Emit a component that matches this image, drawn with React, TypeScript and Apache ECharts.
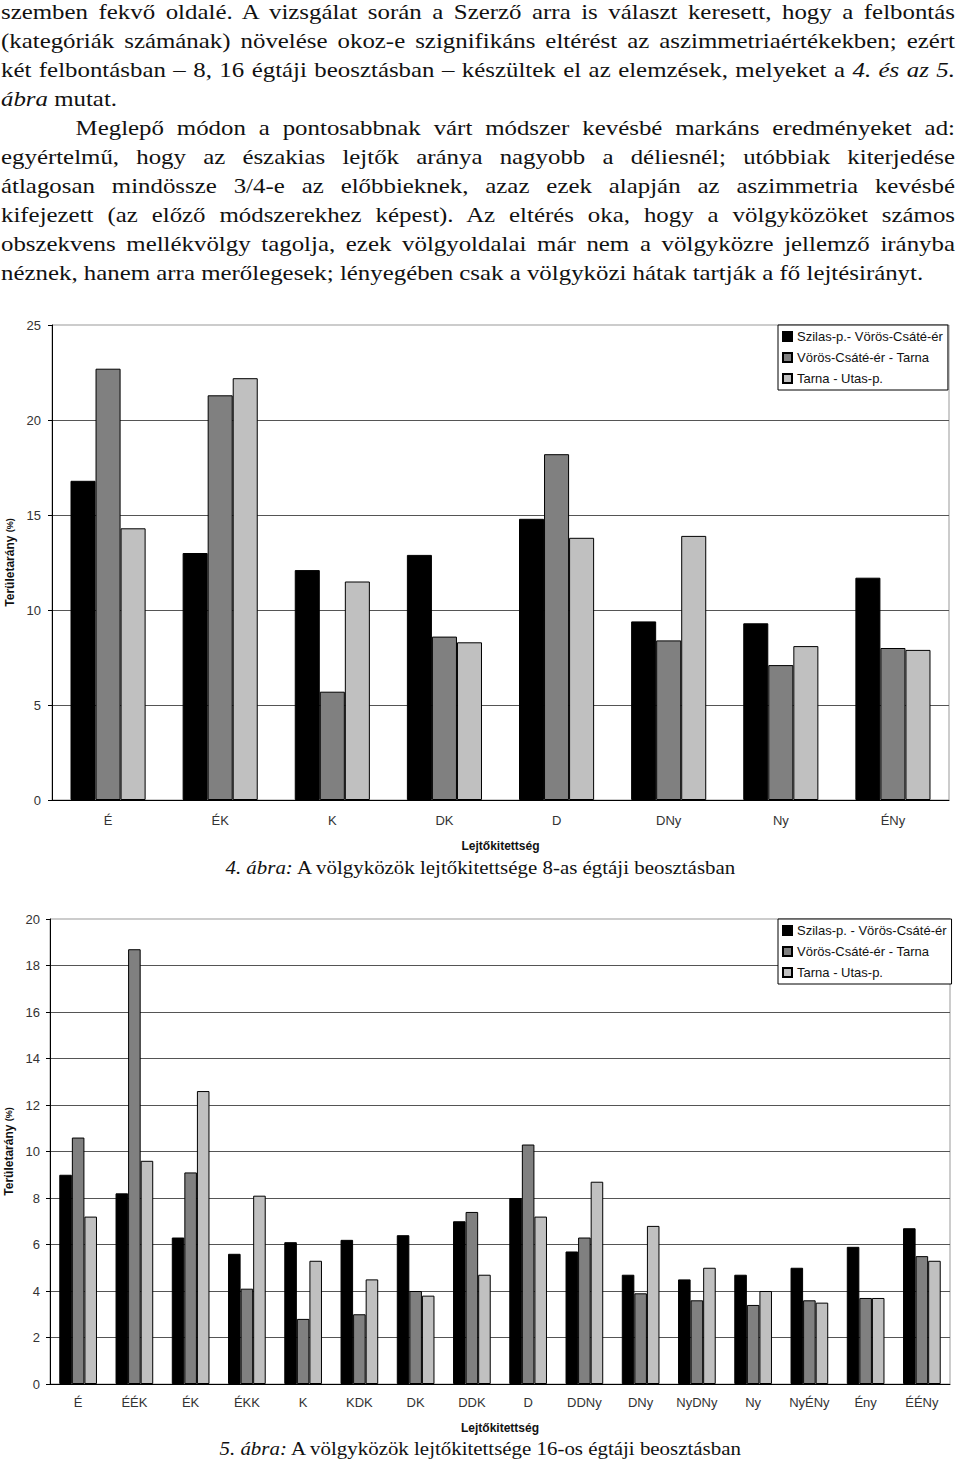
import React, { useEffect, useRef } from "react";
import * as echarts from "echarts";

// ---------- DATA ----------
const categories8 = ["É", "ÉK", "K", "DK", "D", "DNy", "Ny", "ÉNy"];
const c1Series1 = [16.8, 13.0, 12.1, 12.9, 14.8, 9.4, 9.3, 11.7];
const c1Series2 = [22.7, 21.3, 5.7, 8.6, 18.2, 8.4, 7.1, 8.0];
const c1Series3 = [14.3, 22.2, 11.5, 8.3, 13.8, 13.9, 8.1, 7.9];

const categories16 = [
  "É", "ÉÉK", "ÉK", "ÉKK", "K", "KDK", "DK", "DDK",
  "D", "DDNy", "DNy", "NyDNy", "Ny", "NyÉNy", "Ény", "ÉÉNy",
];
const c2Series1 = [9.0, 8.2, 6.3, 5.6, 6.1, 6.2, 6.4, 7.0, 8.0, 5.7, 4.7, 4.5, 4.7, 5.0, 5.9, 6.7];
const c2Series2 = [10.6, 18.7, 9.1, 4.1, 2.8, 3.0, 4.0, 7.4, 10.3, 6.3, 3.9, 3.6, 3.4, 3.6, 3.7, 5.5];
const c2Series3 = [7.2, 9.6, 12.6, 8.1, 5.3, 4.5, 3.8, 4.7, 7.2, 8.7, 6.8, 5.0, 4.0, 3.5, 3.7, 5.3];

const c1Names = ["Szilas-p.- Vörös-Csáté-ér", "Vörös-Csáté-ér - Tarna", "Tarna - Utas-p."];
const c2Names = ["Szilas-p. - Vörös-Csáté-ér", "Vörös-Csáté-ér - Tarna", "Tarna - Utas-p."];
const barColors = ["#000000", "#808080", "#c0c0c0"];

const yAxisTitle = "Területarány {s|(%)}";
const xAxisTitle = "Lejtőkitettség";

type Seg = { t: string; i?: boolean };
type Line = { segs: Seg[]; justify: boolean; indent?: number };

const textLines: Line[] = [
  { segs: [{ t: "szemben fekvő oldalé. A vizsgálat során a Szerző arra is választ keresett, hogy a felbontás" }], justify: true },
  { segs: [{ t: "(kategóriák számának) növelése okoz-e szignifikáns eltérést az aszimmetriaértékekben; ezért" }], justify: true },
  { segs: [{ t: "két felbontásban – 8, 16 égtáji beosztásban – készültek el az elemzések, melyeket a " }, { t: "4. és az 5.", i: true }], justify: true },
  { segs: [{ t: "ábra", i: true }, { t: " mutat." }], justify: false },
  { segs: [{ t: "Meglepő módon a pontosabbnak várt módszer kevésbé markáns eredményeket ad:" }], justify: true, indent: 66 },
  { segs: [{ t: "egyértelmű, hogy az északias lejtők aránya nagyobb a déliesnél; utóbbiak kiterjedése" }], justify: true },
  { segs: [{ t: "átlagosan mindössze 3/4-e az előbbieknek, azaz ezek alapján az aszimmetria kevésbé" }], justify: true },
  { segs: [{ t: "kifejezett (az előző módszerekhez képest). Az eltérés oka, hogy a völgyközöket számos" }], justify: true },
  { segs: [{ t: "obszekvens mellékvölgy tagolja, ezek völgyoldalai már nem a völgyközre jellemző irányba" }], justify: true },
  { segs: [{ t: "néznek, hanem arra merőlegesek; lényegében csak a völgyközi hátak tartják a fő lejtésirányt." }], justify: false },
];

const caption1: Seg[] = [{ t: "4. ábra:", i: true }, { t: " A völgyközök lejtőkitettsége 8-as égtáji beosztásban" }];
const caption2: Seg[] = [{ t: "5. ábra:", i: true }, { t: " A völgyközök lejtőkitettsége 16-os égtáji beosztásban" }];

const SANS = "'Liberation Sans', Arial, sans-serif";
const SERIF = "'Liberation Serif', 'Times New Roman', serif";
const SX = 1.13;

function renderSegs(segs: Seg[]) {
  return segs.map((s, k) =>
    s.i ? <i key={k}>{s.t}</i> : <React.Fragment key={k}>{s.t}</React.Fragment>
  );
}

export default function App() {
  const ref = useRef<HTMLDivElement>(null);

  useEffect(() => {
    if (!ref.current) return;
    const chart = echarts.init(ref.current, undefined, { renderer: "svg" });

    const axisLabelStyle = { fontFamily: SANS, fontSize: 13, color: "#333" };
    const nameStyle = {
      fontFamily: SANS,
      fontSize: 12,
      fontWeight: "bold" as const,
      color: "#111",
      rich: { s: { fontFamily: SANS, fontSize: 9, fontWeight: "bold" as const, color: "#111" } },
    };

    const makeSeries = (names: string[], data: number[][], idx: number) =>
      names.map((n, k) => ({
        name: n,
        type: "bar" as const,
        xAxisIndex: idx,
        yAxisIndex: idx,
        data: data[k],
        barGap: "0%",
        barCategoryGap: "33%",
        itemStyle: { color: barColors[k], borderColor: "#000", borderWidth: 1 },
      }));

    const legendBase = {
      orient: "vertical" as const,
      icon: "rect",
      itemWidth: 9,
      itemHeight: 9,
      itemGap: 8,
      itemTextGap: 4,
      padding: [5, 5, 5, 4],
      borderColor: "#000",
      borderWidth: 1,
      backgroundColor: "#fff",
      textStyle: { fontFamily: SANS, fontSize: 13, color: "#111" },
    };

    chart.setOption({
      animation: false,
      backgroundColor: "#fff",
      grid: [
        { left: 52, top: 325, width: 897, height: 475, show: true, borderColor: "#999", borderWidth: 1, backgroundColor: "transparent", containLabel: false, outerBoundsMode: "none" },
        { left: 50, top: 919, width: 900, height: 465, show: true, borderColor: "#999", borderWidth: 1, backgroundColor: "transparent", containLabel: false, outerBoundsMode: "none" },
      ],
      legend: [
        { ...legendBase, left: 778, top: 325, data: c1Names },
        { ...legendBase, left: 778, top: 919, data: c2Names },
      ],
      xAxis: [
        {
          type: "category",
          gridIndex: 0,
          data: categories8,
          axisLine: { lineStyle: { color: "#000", width: 1 } },
          axisTick: { length: 5, lineStyle: { color: "#000" } },
          axisLabel: { ...axisLabelStyle, margin: 14 },
          name: xAxisTitle,
          nameLocation: "middle",
          nameGap: 40,
          nameTextStyle: nameStyle,
        },
        {
          type: "category",
          gridIndex: 1,
          data: categories16,
          axisLine: { lineStyle: { color: "#000", width: 1 } },
          axisTick: { length: 5, lineStyle: { color: "#000" } },
          axisLabel: { ...axisLabelStyle, margin: 12, interval: 0 },
          name: xAxisTitle,
          nameLocation: "middle",
          nameGap: 38,
          nameTextStyle: nameStyle,
        },
      ],
      yAxis: [
        {
          type: "value",
          gridIndex: 0,
          min: 0,
          max: 25,
          interval: 5,
          axisLine: { show: true, lineStyle: { color: "#000" } },
          axisTick: { show: true, length: 4, lineStyle: { color: "#000" } },
          axisLabel: { ...axisLabelStyle, margin: 11 },
          splitLine: { show: true, showMaxLine: false, lineStyle: { color: "#555", width: 1 } },
          name: yAxisTitle,
          nameLocation: "middle",
          nameGap: 36,
          nameTextStyle: nameStyle,
        },
        {
          type: "value",
          gridIndex: 1,
          min: 0,
          max: 20,
          interval: 2,
          axisLine: { show: true, lineStyle: { color: "#000" } },
          axisTick: { show: true, length: 4, lineStyle: { color: "#000" } },
          axisLabel: { ...axisLabelStyle, margin: 10 },
          splitLine: { show: true, showMaxLine: false, lineStyle: { color: "#555", width: 1 } },
          name: yAxisTitle,
          nameLocation: "middle",
          nameGap: 33,
          nameTextStyle: nameStyle,
        },
      ],
      series: [
        ...makeSeries(c1Names, [c1Series1, c1Series2, c1Series3], 0),
        ...makeSeries(c2Names, [c2Series1, c2Series2, c2Series3], 1),
      ],
    });

    return () => chart.dispose();
  }, []);

  return (
    <div style={{ position: "absolute", left: 0, top: 0, width: 960, height: 1462, background: "#fff", overflow: "hidden" }}>
      <div ref={ref} style={{ position: "absolute", left: 0, top: 0, width: 960, height: 1462 }} />
      <div
        style={{
          position: "absolute",
          left: 1,
          top: -3,
          width: 954 / SX,
          transform: `scaleX(${SX})`,
          transformOrigin: "0 0",
          fontFamily: SERIF,
          fontSize: 22,
          lineHeight: "29px",
          color: "#111",
          pointerEvents: "none",
        }}
      >
        {textLines.map((ln, k) => (
          <div
            key={k}
            style={{
              height: 29,
              whiteSpace: "nowrap",
              textAlign: ln.justify ? "justify" : "left",
              textAlignLast: ln.justify ? "justify" : "left",
              paddingLeft: ln.indent || 0,
            } as React.CSSProperties}
          >
            {renderSegs(ln.segs)}
          </div>
        ))}
      </div>
      {[{ segs: caption1, top: 856, cx: 477.5 }, { segs: caption2, top: 1437, cx: 478.5 }].map((c, k) => (
        <div
          key={k}
          style={{
            position: "absolute",
            left: 0,
            top: c.top,
            width: 960,
            textAlign: "center",
            transform: `scaleX(${SX})`,
            transformOrigin: `${c.cx}px 0`,
            fontFamily: SERIF,
            fontSize: 18.5,
            lineHeight: "24px",
            color: "#111",
            whiteSpace: "nowrap",
            pointerEvents: "none",
          }}
        >
          {renderSegs(c.segs)}
        </div>
      ))}
    </div>
  );
}
